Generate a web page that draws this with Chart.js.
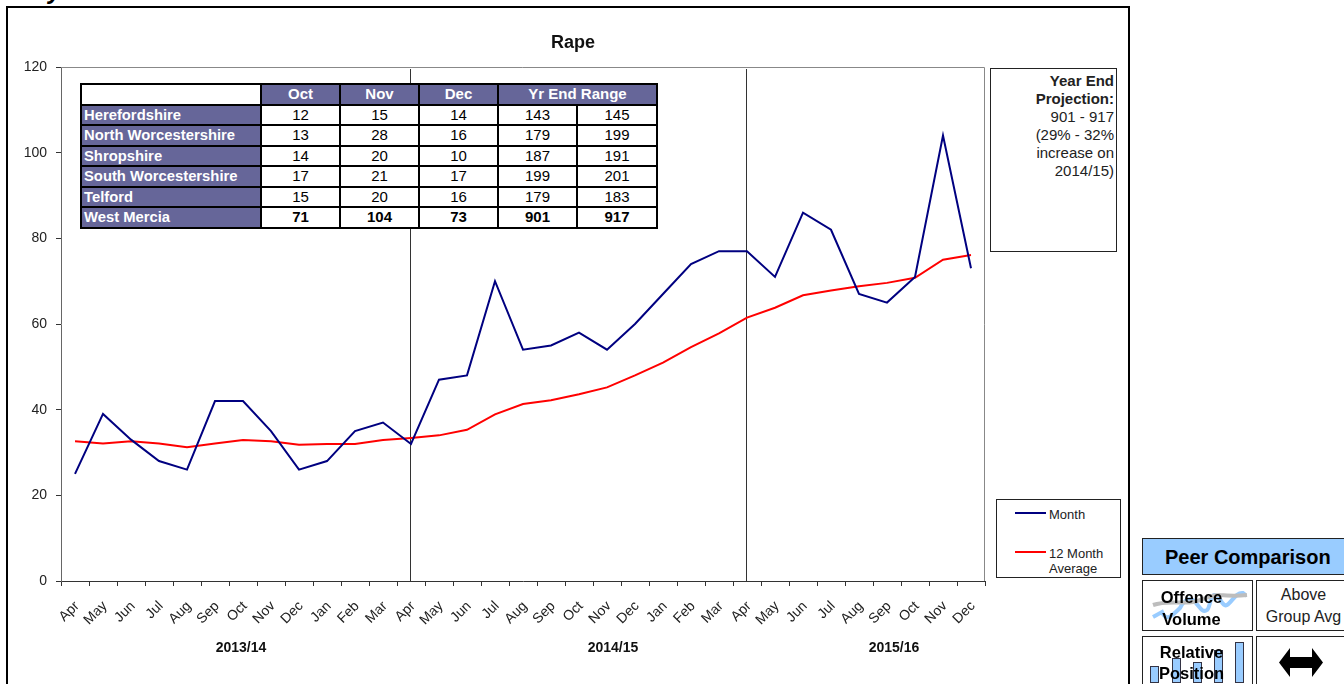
<!DOCTYPE html>
<html><head><meta charset="utf-8">
<script src="https://cdn.jsdelivr.net/npm/chart.js@4"></script>
<style>
html,body{margin:0;padding:0;background:#fff;overflow:hidden;width:1344px;height:684px;font-family:"Liberation Sans",Arial,sans-serif;color:#000}
#wrap{position:absolute;left:0;top:0;width:1146px;height:684px}
.abs{position:absolute;box-sizing:border-box}
#frame{left:6px;top:6px;width:1124px;height:700px;border:2px solid #000}
#tbl{position:absolute;left:80px;top:83px;border-collapse:collapse;table-layout:fixed;width:576px;font-size:15px;line-height:16px;background:#fff}
#tbl td{border:2px solid #000;padding:0;height:18.5px;text-align:center;box-sizing:border-box;white-space:nowrap}
#tbl .h{background:#666699;color:#fff;font-weight:bold;font-size:15px}
#tbl .n{background:#666699;color:#fff;font-weight:bold;text-align:left;padding-left:2px;font-size:14.8px}
#tbl .b{font-weight:bold}
.box{border:1px solid #222;background:#fff}
.yr{font-size:14px;font-weight:bold;position:absolute;top:639px;transform:translateX(-50%);color:#111}
.c{text-align:center}
</style></head><body>
<div class="abs" style="left:48px;top:-24px;font:italic bold 25px 'Liberation Sans'">y</div>
<div class="abs" id="frame"></div>
<div id="wrap"><canvas id="c" width="1146" height="684" style="width:1146px;height:684px;display:block"></canvas></div>
<div class="abs" id="title" style="left:473px;width:200px;top:31px;text-align:center;font-weight:bold;font-size:18px;line-height:22px;color:#111"></div>
<table id="tbl"></table>
<div class="abs box" id="proj" style="left:990px;top:68px;width:127px;height:184px;text-align:right;font-size:15px;line-height:18px;padding:3px 2px 0 0;color:#222"></div>
<div class="abs box" id="leg" style="left:996px;top:499px;width:125px;height:79px"></div>
<div id="years"></div>
<div class="abs" style="left:1142px;top:538px;width:210px;height:37px;border:1px solid #222;background:#99ccff;font-weight:bold;font-size:20px;line-height:36px;padding-left:22px;white-space:nowrap">Peer Comparison</div>
<div class="abs box" style="left:1142px;top:580px;width:111px;height:51px"></div>
<svg class="abs" style="left:1142px;top:580px" width="111" height="51" viewBox="0 0 111 51">
<path d="M11 37 L20 32 C24 42 30 36 38 28 C42 20 47 18 51 20 C56 24 60 34 65 30 C68 28 68 16 72 15 C78 14 80 28 85 25 C90 22 94 12 101 13 C103 14 103 15 102 16" fill="none" stroke="#99ccff" stroke-width="4"/>
<path d="M11 25 C25 20 40 24 51 22 C62 20 70 14 78 15 C88 16 96 16 105 15" fill="none" stroke="#bdbdbd" stroke-width="4"/></svg>
<div class="abs c" style="left:1142px;top:586px;width:99px;font-weight:bold;font-size:16.5px;line-height:22px;white-space:nowrap">Offence<br>Volume</div>
<div class="abs box" style="left:1256px;top:580px;width:100px;height:51px"></div>
<div class="abs c" style="left:1256px;top:584px;width:95px;font-size:16px;line-height:22px;color:#222;white-space:nowrap">Above<br>Group Avg</div>
<div class="abs box" style="left:1142px;top:636px;width:111px;height:60px"></div>
<div id="bars"></div>
<div class="abs c" style="left:1142px;top:642px;width:99px;font-weight:bold;font-size:16.5px;line-height:21px;white-space:nowrap">Relative<br>Position</div>
<div class="abs box" style="left:1256px;top:636px;width:100px;height:60px"></div>
<svg class="abs" style="left:1279px;top:648px" width="44" height="29" viewBox="0 0 44 29"><path d="M0 14.5 L11 0 V9 H33 V0 L44 14.5 L33 29 V20 H11 V29 Z" fill="#000"/></svg>
<script>
const categories=["Apr","May","Jun","Jul","Aug","Sep","Oct","Nov","Dec","Jan","Feb","Mar","Apr","May","Jun","Jul","Aug","Sep","Oct","Nov","Dec","Jan","Feb","Mar","Apr","May","Jun","Jul","Aug","Sep","Oct","Nov","Dec"];
const monthValues=[25,39,33,28,26,42,42,35,26,28,35,37,32,47,48,70,54,55,58,54,60,67,74,77,77,71,86,82,67,65,71,104,73];
const averageValues=[32.6,32.1,32.6,32.1,31.2,32.1,32.9,32.6,31.8,32,32,32.9,33.4,34,35.3,38.9,41.3,42.2,43.6,45.2,48,51,54.6,57.8,61.5,63.8,66.7,67.8,68.8,69.6,70.8,75,76.1];
const yTicks=[0,20,40,60,80,100,120];
const yearDividers=[12,24];
const chartTitle="Rape";
const yearLabels=["2013/14","2014/15","2015/16"];
const yearCentres=[241,613,894];
const tableHead=["Oct","Nov","Dec","Yr End Range"];
const areas=["Herefordshire","North Worcestershire","Shropshire","South Worcestershire","Telford","West Mercia"];
const octValues=[12,13,14,17,15,71];
const novValues=[15,28,20,21,20,104];
const decValues=[14,16,10,17,16,73];
const rangeLow=[143,179,187,199,179,901];
const rangeHigh=[145,199,191,201,183,917];
const projectionBold=["Year End","Projection:"];
const projectionText=["901 - 917","(29% - 32%","increase on","2014/15)"];
const legendNames=["Month","12 Month Average"];
const seriesColors=["#000080","#ff0000"];
const barLefts=[1150,1172,1193,1214,1235];
const barTops=[666,658,662,650,642];

const F='"Liberation Sans",Arial,sans-serif';
const framePlugin={id:'framePlugin',
 beforeDatasetsDraw(ch){const a=ch.chartArea,c=ch.ctx,x=ch.scales.x;c.save();c.strokeStyle='#333';c.lineWidth=1;
  yearDividers.forEach(i=>{const p=Math.round(x.getPixelForValue(i))-.5;c.beginPath();c.moveTo(p,a.top+2);c.lineTo(p,a.bottom);c.stroke();});c.restore();},
 afterDraw(ch){const a=ch.chartArea,c=ch.ctx;c.save();c.strokeStyle='#888';c.lineWidth=1;
  c.beginPath();c.moveTo(a.left,a.top+.5);c.lineTo(a.right-.5,a.top+.5);c.lineTo(a.right-.5,a.bottom);c.stroke();c.restore();}};
new Chart(document.getElementById('c'),{type:'line',plugins:[framePlugin],
 data:{labels:categories,datasets:[
  {label:legendNames[0],data:monthValues,borderColor:seriesColors[0],borderWidth:2,pointRadius:0,tension:0,fill:false},
  {label:legendNames[1],data:averageValues,borderColor:seriesColors[1],borderWidth:2,pointRadius:0,tension:0,fill:false}]},
 options:{responsive:false,animation:false,devicePixelRatio:1,
  layout:{padding:{left:0,right:161,top:67,bottom:0}},
  plugins:{legend:{display:false},tooltip:{enabled:false},title:{display:false}},
  scales:{
   x:{offset:true,afterFit(s){s.height=103;},
    grid:{offset:true,drawOnChartArea:false,tickColor:'#333',tickLength:5},
    border:{color:'#333',width:1},
    ticks:{autoSkip:false,maxRotation:45,minRotation:45,color:'#222',font:{family:F,size:14},padding:12,labelOffset:2}},
   y:{min:0,max:120,afterFit(s){s.width=61;},
    afterBuildTicks(s){s.ticks=yTicks.map(v=>({value:v}));},
    grid:{drawOnChartArea:false,tickColor:'#333',tickLength:5},
    border:{color:'#666',width:1},
    ticks:{color:'#222',font:{family:F,size:14},padding:9}}
  }}});

document.getElementById('title').textContent=chartTitle;
// table
let h='<colgroup><col style="width:180px"><col style="width:79px"><col style="width:79px"><col style="width:79px"><col style="width:79px"><col style="width:80px"></colgroup>';
h+='<tr><td></td>'+tableHead.map((t,i)=>`<td class="h"${i===3?' colspan="2"':''}>${t}</td>`).join('')+'</tr>';
areas.forEach((a,i)=>{const b=i===areas.length-1?' class="b"':'';
 h+=`<tr><td class="n">${a}</td>`+[octValues,novValues,decValues,rangeLow,rangeHigh].map(v=>`<td${b}>${v[i]}</td>`).join('')+'</tr>';});
document.getElementById('tbl').innerHTML=h;
document.querySelectorAll('#tbl tr').forEach(r=>r.style.height='20.5px');
// projection
document.getElementById('proj').innerHTML=projectionBold.map(t=>`<b>${t}</b>`).join('<br>')+'<br>'+projectionText.join('<br>');
// legend
document.getElementById('leg').innerHTML=
 `<div class="abs" style="left:18px;top:12px;width:31px;height:2px;background:${seriesColors[0]}"></div>
  <div class="abs" style="left:52px;top:7px;font-size:13px;line-height:15px;color:#222;white-space:nowrap">${legendNames[0]}</div>
  <div class="abs" style="left:18px;top:51px;width:31px;height:2px;background:${seriesColors[1]}"></div>
  <div class="abs" style="left:52px;top:46px;width:72px;font-size:13px;line-height:15px;color:#222;white-space:nowrap">${legendNames[1].replace(' Average','<br>Average')}</div>`;
// years
document.getElementById('years').innerHTML=yearLabels.map((t,i)=>`<div class="yr" style="left:${yearCentres[i]}px">${t}</div>`).join('');
// small icon bars
document.getElementById('bars').innerHTML=barLefts.map((x,i)=>`<div class="abs" style="left:${x}px;top:${barTops[i]}px;width:9px;height:${683-barTops[i]}px;background:#99ccff;border:1px solid #334"></div>`).join('');
</script></body></html>
